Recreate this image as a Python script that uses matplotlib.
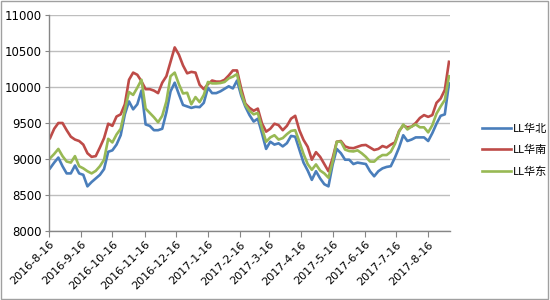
import matplotlib
matplotlib.use("Agg")
import matplotlib.pyplot as plt
import pandas as pd
from matplotlib.patches import Rectangle

plt.rcParams['font.family'] = ['DejaVu Sans', 'Noto Sans CJK SC']

dates = pd.date_range('2016-08-17', periods=97, freq='4D')

huabei = [8870, 8950, 9020, 8900, 8800, 8800, 8910, 8800, 8780, 8620,
          8680, 8730, 8780, 8860, 9100, 9120, 9200, 9330, 9620, 9800,
          9690, 9760, 9950, 9480, 9460, 9400, 9400, 9420, 9650, 9940,
          10060, 9900, 9750, 9730, 9710, 9725, 9720, 9780, 9990, 9915,
          9915, 9940, 9975, 10010, 9980, 10090, 9880, 9727, 9610, 9520,
          9560, 9357, 9140, 9240, 9200, 9218, 9175, 9220, 9320, 9310,
          9130, 8950, 8840, 8710, 8830, 8730, 8650, 8620, 8920, 9140,
          9080, 8990, 8990, 8930, 8950, 8940, 8930, 8830, 8760, 8830,
          8870, 8890, 8900, 9020, 9160, 9330, 9250, 9270, 9300, 9300,
          9300, 9250, 9360, 9490, 9600, 9620, 10050]

huanan = [9290, 9420, 9500, 9500, 9400, 9310, 9270, 9250, 9200, 9080,
          9030, 9040, 9160, 9290, 9490, 9460, 9590, 9620, 9760, 10100,
          10200, 10170, 10080, 9970, 9970, 9950, 9915, 10060, 10150, 10350,
          10550, 10450, 10300, 10190, 10210, 10200, 10030, 9970, 10040, 10090,
          10075, 10075, 10100, 10160, 10230, 10230, 9980, 9770, 9710, 9670,
          9700, 9495, 9380, 9420, 9490, 9470, 9400, 9460, 9560, 9600,
          9400, 9265, 9170, 8990, 9095, 9030, 8930, 8830, 9010, 9240,
          9250, 9175, 9155, 9150, 9170, 9190, 9195, 9160, 9125, 9140,
          9180, 9160, 9200, 9230, 9390, 9465, 9440, 9450, 9500, 9570,
          9610, 9585, 9610, 9780, 9840, 9960, 10350]

huadong = [9010, 9070, 9140, 9040, 8965, 8950, 9040, 8900, 8870, 8830,
           8800, 8835, 8900, 8990, 9280, 9230, 9340, 9420, 9680, 9930,
           9890, 9990, 10100, 9700, 9640, 9580, 9510, 9600, 9800, 10150,
           10200, 10040, 9910, 9920, 9760, 9860, 9790, 9890, 10070, 10050,
           10050, 10055, 10070, 10120, 10144, 10180, 9920, 9750, 9670, 9620,
           9640, 9430, 9240, 9300, 9330, 9270, 9290, 9345, 9390, 9400,
           9240, 9070, 8930, 8850, 8925, 8840, 8800, 8740, 8960, 9240,
           9240, 9130, 9110, 9105, 9120, 9080, 9030, 8965, 8963, 9020,
           9055, 9055, 9100, 9210, 9380, 9480, 9410, 9450, 9480, 9440,
           9440, 9370, 9470, 9630, 9730, 9820, 10150]

series_names = ['LL华北', 'LL华南', 'LL华东']
colors = ['#4A7EBB', '#BE4B48', '#98B954']
tick_labels = ['2016-8-16', '2016-9-16', '2016-10-16', '2016-11-16', '2016-12-16',
               '2017-1-16', '2017-2-16', '2017-3-16', '2017-4-16', '2017-5-16',
               '2017-6-16', '2017-7-16', '2017-8-16']
tick_dates = pd.to_datetime(tick_labels)

fig = plt.figure(figsize=(5.5, 3.0), dpi=100)
ax = fig.add_axes([49/550, 1-231/300, (450-49)/550, (231-15)/300])

for vals, name, c in zip([huabei, huanan, huadong], series_names, colors):
    ax.plot(dates, vals, color=c, lw=1.9, label=name, solid_joinstyle='round')

ax.set_ylim(8000, 11000)
ax.set_yticks(range(8000, 11001, 500))
ax.set_xlim(pd.Timestamp('2016-08-16'), pd.Timestamp('2017-09-06'))
ax.set_xticks(tick_dates)
ax.set_xticklabels(tick_labels, rotation=45, ha='right', rotation_mode='anchor', fontsize=8)
ax.tick_params(axis='y', labelsize=8.5, length=3, color='#868686', pad=2)
ax.tick_params(axis='x', length=4, color='#868686', pad=2)

ax.grid(axis='y', color='#BEBEBE', lw=1)
ax.set_axisbelow(True)
for s in ['top', 'right']:
    ax.spines[s].set_visible(False)
for s in ['left', 'bottom']:
    ax.spines[s].set_color('#868686')
    ax.spines[s].set_linewidth(1)

ax.legend(loc='center left', bbox_to_anchor=(472/550, 150/300), bbox_transform=fig.transFigure,
          frameon=False, prop={'family': ['Noto Sans CJK SC', 'DejaVu Sans'], 'size': 8},
          handlelength=2.6, handletextpad=0.2, labelspacing=1.0)

fig.patches.append(Rectangle((0.002, 0.004), 0.995, 0.992, transform=fig.transFigure,
                             fill=False, edgecolor='#A0A0A0', lw=1))

fig.savefig('out.png', dpi=100, facecolor='white')
